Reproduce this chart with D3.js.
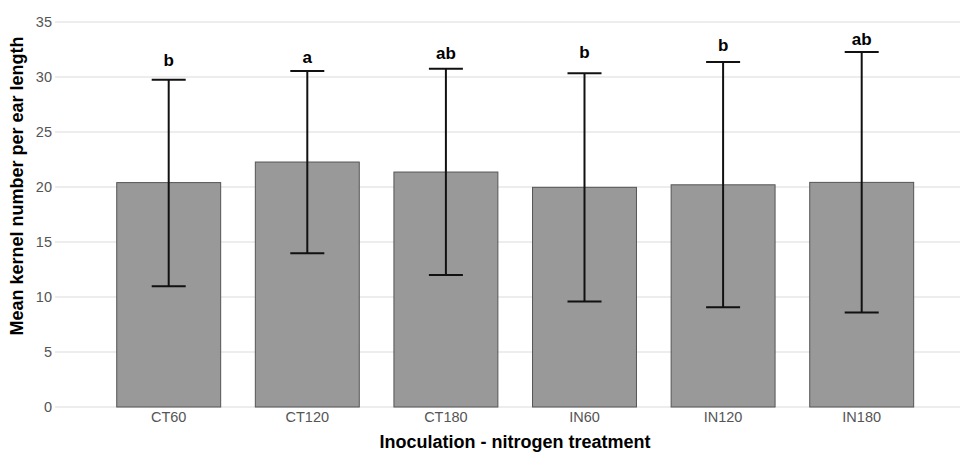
<!DOCTYPE html>
<html><head><meta charset="utf-8">
<script src="https://cdn.jsdelivr.net/npm/d3@7"></script>
<style>body{margin:0;background:#fff}</style>
</head><body>
<svg id="c" width="966" height="452"></svg>
<script>
const categories = ["CT60","CT120","CT180","IN60","IN120","IN180"];
const means = [20.4, 22.27, 21.36, 19.97, 20.2, 20.42];
const upper = [29.75, 30.55, 30.76, 30.33, 31.36, 32.27];
const lower = [10.97, 13.97, 12.0, 9.6, 9.06, 8.6];
const letters = ["b","a","ab","b","b","ab"];
const letterPos = [31.0, 31.3, 31.6, 31.7, 32.36, 32.9];
const yTicks = [0,5,10,15,20,25,30,35];

const FONT = "'Liberation Sans', Arial, Helvetica, sans-serif";
const svg = d3.select("#c");
const y = d3.scaleLinear().domain([0,35]).range([407,22]);
const x = d3.scaleBand().domain(categories).range([99.4,931]).paddingInner(0.25).paddingOuter(0.125);

// gridlines
svg.append("g").selectAll("line").data(yTicks).join("line")
  .attr("x1",55).attr("x2",960)
  .attr("y1",d=>y(d)).attr("y2",d=>y(d))
  .attr("stroke","#dcdcdc").attr("stroke-width",1.2);

// y tick labels
svg.append("g").selectAll("text").data(yTicks).join("text")
  .attr("x",52).attr("y",d=>y(d)).attr("dy","0.35em")
  .attr("text-anchor","end")
  .style("font-family",FONT).style("font-size","14.5px")
  .attr("fill","#555").text(d=>d);

// bars
svg.append("g").selectAll("rect").data(categories).join("rect")
  .attr("x",d=>x(d)).attr("width",x.bandwidth())
  .attr("y",(d,i)=>y(means[i])).attr("height",(d,i)=>y(0)-y(means[i]))
  .attr("fill","#999999").attr("stroke","#555").attr("stroke-width",1);

// error bars
const eb = svg.append("g").attr("stroke","#111").attr("stroke-width",2);
categories.forEach((c,i)=>{
  const cx = x(c)+x.bandwidth()/2;
  eb.append("line").attr("x1",cx).attr("x2",cx).attr("y1",y(upper[i])).attr("y2",y(lower[i]));
  eb.append("line").attr("x1",cx-17).attr("x2",cx+17).attr("y1",y(upper[i])).attr("y2",y(upper[i]));
  eb.append("line").attr("x1",cx-17).attr("x2",cx+17).attr("y1",y(lower[i])).attr("y2",y(lower[i]));
});

// letters
svg.append("g").selectAll("text").data(categories).join("text")
  .attr("x",d=>x(d)+x.bandwidth()/2).attr("y",(d,i)=>y(letterPos[i]))
  .attr("text-anchor","middle")
  .style("font-family",FONT).style("font-size","17px").style("font-weight","bold")
  .attr("fill","#000").text((d,i)=>letters[i]);

// x tick labels
svg.append("g").selectAll("text").data(categories).join("text")
  .attr("x",d=>x(d)+x.bandwidth()/2).attr("y",422)
  .attr("text-anchor","middle")
  .style("font-family",FONT).style("font-size","14.5px")
  .attr("fill","#555").text(d=>d);

// axis titles
svg.append("text").attr("x",515).attr("y",448).attr("text-anchor","middle")
  .style("font-family",FONT).style("font-size","18px").style("font-weight","bold")
  .text("Inoculation - nitrogen treatment");
svg.append("text").attr("transform","translate(23,186) rotate(-90)").attr("text-anchor","middle")
  .style("font-family",FONT).style("font-size","18px").style("font-weight","bold")
  .text("Mean kernel number per ear length");
</script>
</body></html>
